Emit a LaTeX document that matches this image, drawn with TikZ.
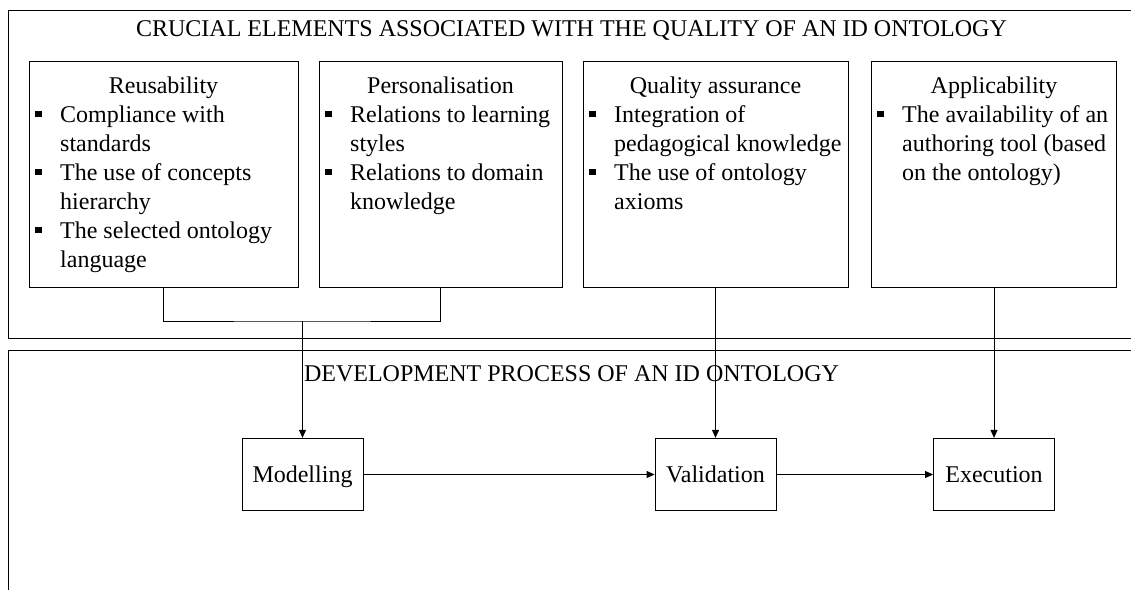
\documentclass[tikz,border=0pt]{standalone}
\usepackage{fontspec}
\setmainfont{Liberation Serif}
\usetikzlibrary{arrows.meta}

% square list bullet
\newcommand{\sqbul}{\rule[5.5pt]{6.5pt}{6pt}}
% bullet list set in two columns: bullet, then text lines
\newenvironment{bullist}{\begin{tabular}[t]{@{}p{25pt}@{}l@{}}}{\end{tabular}}

\begin{document}
\begin{tikzpicture}[x=1pt,y=-1pt,
  every node/.style={font=\fontsize{24}{29}\selectfont},
  frame/.style={draw=black,line width=0.9pt},
  cbox/.style={draw=black,line width=0.9pt,minimum height=226pt,inner sep=0pt},
  pbox/.style={draw=black,line width=0.9pt,minimum width=121pt,minimum height=72.4pt,
    inner sep=0pt,text height=19pt,text depth=4pt},
  arr/.style={draw=black,line width=0.9pt,-{Triangle[length=8pt,width=7pt]}},
  link/.style={draw=black,line width=0.9pt},
  head/.style={anchor=base,inner sep=0pt},
  items/.style={anchor=base west,inner sep=0pt}
]
\useasboundingbox (0,0) rectangle (1131,590);

% outer frames (they run on past the right edge)
\draw[frame] (1131,10) -- (8,10) -- (8,338.3) -- (1131,338.3);
\draw[frame] (1131,350.7) -- (8,350.7) -- (8,590);

% frame titles
\node[head] (toptitle) at (571.5,36.7) {CRUCIAL ELEMENTS ASSOCIATED WITH THE QUALITY OF AN ID ONTOLOGY};
\node[head] (devtitle) at (571.5,381.5) {DEVELOPMENT PROCESS OF AN ID ONTOLOGY};

% the four quality elements
\node[cbox,minimum width=269pt] (reu) at (163.5,174) {};
\node[cbox,minimum width=243pt] (per) at (440.5,174) {};
\node[cbox,minimum width=265pt] (qua) at (715.5,174) {};
\node[cbox,minimum width=245pt] (app) at (994,174) {};

\node[head] (reuT) at (reu.north |- 0,93.8) {Reusability};
\node[head] (perT) at (per.north |- 0,93.8) {Personalisation};
\node[head] (quaT) at (qua.north |- 0,93.8) {Quality assurance};
\node[head] (appT) at (app.north |- 0,93.8) {Applicability};

\node[items] (reuL) at (35,122.8) {\begin{bullist}
  \sqbul & Compliance with\\
         & standards\\
  \sqbul & The use of concepts\\
         & hierarchy\\
  \sqbul & The selected ontology\\
         & language
\end{bullist}};
\node[items] (perL) at (325,122.8) {\begin{bullist}
  \sqbul & Relations to learning\\
         & styles\\
  \sqbul & Relations to domain\\
         & knowledge
\end{bullist}};
\node[items] (quaL) at (589,122.8) {\begin{bullist}
  \sqbul & Integration of\\
         & pedagogical knowledge\\
  \sqbul & The use of ontology\\
         & axioms
\end{bullist}};
\node[items] (appL) at (877,122.8) {\begin{bullist}
  \sqbul & The availability of an\\
         & authoring tool (based\\
         & on the ontology)
\end{bullist}};

% development steps
\node[pbox] (mod) at (302.5,474.5) {Modelling};
\node[pbox] (val) at (715.5,474.5) {Validation};
\node[pbox] (exe) at (994,474.5) {Execution};

% connectors
\coordinate (join) at (302.5,321);
\draw[link] (reu.south) |- (join) -| (per.south);
\draw[arr] (join) -- (mod.north);
\draw[arr] (qua.south) -- (val.north);
\draw[arr] (app.south) -- (exe.north);
\draw[arr] (mod) -- (val);
\draw[arr] (val) -- (exe);
\end{tikzpicture}
\end{document}
